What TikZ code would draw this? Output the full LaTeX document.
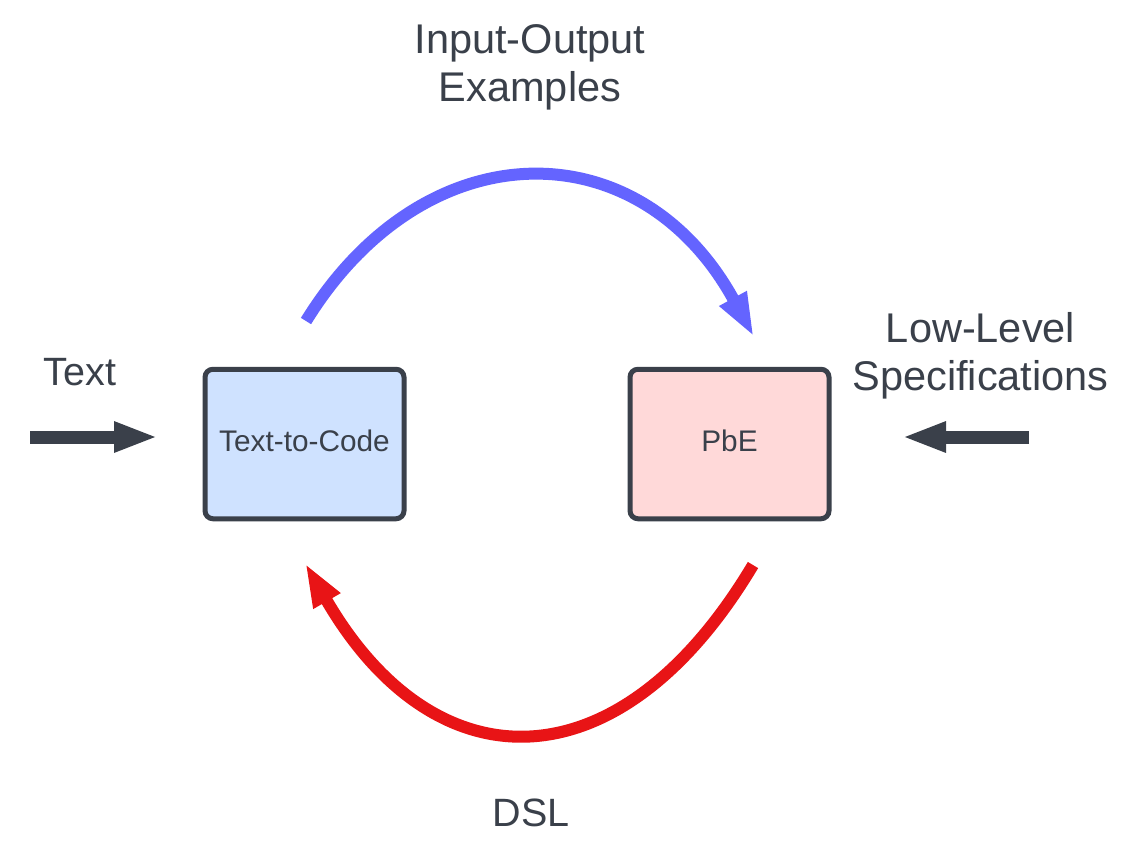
\documentclass[tikz,border=0pt]{standalone}
\usepackage{fontspec}
\setmainfont{Liberation Sans}
\usetikzlibrary{arrows.meta}
\definecolor{ink}{RGB}{58,64,74}
\definecolor{bluearc}{RGB}{100,100,255}
\definecolor{redarc}{RGB}{232,20,22}
\definecolor{boxblue}{RGB}{207,226,255}
\definecolor{boxred}{RGB}{255,217,217}
\tikzset{
  procbox/.style={draw=ink, line width=5pt, rounded corners=8pt, minimum width=199pt, minimum height=149.5pt, inner sep=0pt, text=ink, text height=14pt, text depth=0pt, font=\fontsize{29.8}{34}\selectfont},
  biglabel/.style={text=ink, font=\fontsize{41.5}{48.5}\selectfont, align=center, inner sep=0pt, anchor=base},
  inarrow/.style={draw=ink, line width=13pt, -{Triangle[length=44pt,width=28pt]}},
  looparrow/.style={line width=12pt, -{Triangle[length=44pt,width=28pt]}}
}
\begin{document}
\begin{tikzpicture}[x=1pt,y=-1pt]
\useasboundingbox (0,0) rectangle (1128,868);
\fill[white] (0,0) rectangle (1128,868);
% boxes
\node[procbox, fill=boxblue] (t2c) at (304.5,444) {Text-to-Code};
\node[procbox, fill=boxred] (pbe) at (729.5,444) {PbE};
% labels
\node[biglabel] (io) at (530,101.5) {Input-Output\\Examples};
\node[biglabel] (ll) at (980.5,390.5) {Low-Level\\Specifications};
\node[biglabel, font=\fontsize{39.5}{45}\selectfont] (txt) at (80,385) {Text};
\node[biglabel, font=\fontsize{39.5}{45}\selectfont] (dsl) at (531,826.7) {DSL};
% input arrows
\coordinate (tin) at (30,437);
\coordinate (lin) at (1029,437);
\draw[inarrow, shorten >=44.5pt] (tin) -- (tin -| t2c.west);
\draw[inarrow, shorten >=70.5pt] (lin) -- (lin -| pbe.east);
% loop arrows
\coordinate (bs) at (306,321);
\coordinate (be) at (754,337);
\coordinate (rs) at (753,565);
\coordinate (re) at (305,563);
\draw[looparrow, draw=bluearc] (bs) .. controls (425,128) and (640,128) .. (be);
\draw[looparrow, draw=redarc] (rs) .. controls (620,788) and (435,788) .. (re);
\end{tikzpicture}
\end{document}
